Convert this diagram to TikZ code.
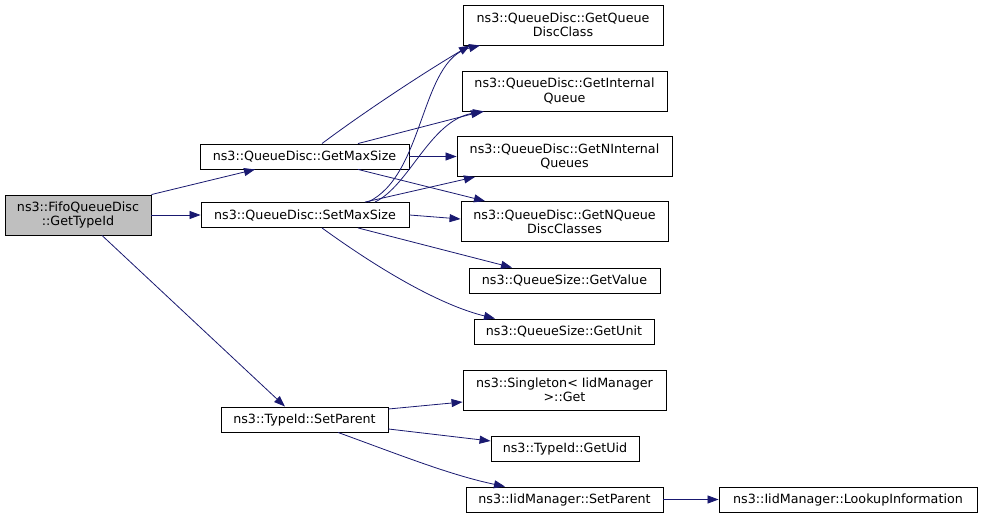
\documentclass[tikz,border=0pt]{standalone}
\usepackage{fontspec}
\newfontfamily\dfont{DejaVu Sans}
\usetikzlibrary{arrows.meta}
\definecolor{edgecol}{HTML}{191970}
\definecolor{rootfill}{HTML}{BFBFBF}
\begin{document}
\begin{tikzpicture}[x=1pt,y=-1pt,
  box/.style={draw=black, line width=0.9pt, fill=white, inner sep=0pt, align=center,
    font=\dfont\fontsize{12.7}{14.2}\selectfont},
  edge/.style={draw=edgecol, line width=0.8pt, -{Triangle[length=11pt,width=8pt]}}]
\useasboundingbox (0,0) rectangle (983,518);
% nodes
\node[box, fill=rootfill, minimum width=146pt, minimum height=40pt] (root) at (78,215) {ns3::FifoQueueDisc\\::GetTypeId};
\node[box, minimum width=209pt, minimum height=25pt] (gms) at (304.5,156.5) {ns3::QueueDisc::GetMaxSize};
\node[box, minimum width=208pt, minimum height=25pt] (sms) at (305,215) {ns3::QueueDisc::SetMaxSize};
\node[box, minimum width=200pt, minimum height=40pt] (gqdc) at (563,25) {ns3::QueueDisc::GetQueue\\DiscClass};
\node[box, minimum width=205pt, minimum height=40pt] (giq) at (564.5,91) {ns3::QueueDisc::GetInternal\\Queue};
\node[box, minimum width=215pt, minimum height=40pt] (gniq) at (564.5,156.5) {ns3::QueueDisc::GetNInternal\\Queues};
\node[box, minimum width=207pt, minimum height=40pt] (gnqdc) at (564.5,221.5) {ns3::QueueDisc::GetNQueue\\DiscClasses};
\node[box, minimum width=191pt, minimum height=25pt] (gv) at (564.5,280.5) {ns3::QueueSize::GetValue};
\node[box, minimum width=180pt, minimum height=25pt] (gu) at (564,331.5) {ns3::QueueSize::GetUnit};
\node[box, minimum width=203pt, minimum height=40pt] (sing) at (564.5,390) {ns3::Singleton< IidManager\\>::Get};
\node[box, minimum width=167pt, minimum height=25pt] (tsp) at (304.5,419.5) {ns3::TypeId::SetParent};
\node[box, minimum width=148pt, minimum height=25pt] (guid) at (565,448.5) {ns3::TypeId::GetUid};
\node[box, minimum width=197pt, minimum height=25pt] (isp) at (564.5,499.5) {ns3::IidManager::SetParent};
\node[box, minimum width=258pt, minimum height=25pt] (lki) at (848,499.5) {ns3::IidManager::LookupInformation};
% edges
\draw[edge] (root.north east) -- (255,0 |- gms.south);
\draw[edge] (root.east) -- (sms.west);
\draw[edge] (102,0 |- root.south) -- (285,0 |- tsp.north);
\draw[edge] (322,0 |- gms.north) .. controls (360,115) and (420,75) .. (470,0 |- gqdc.south);
\draw[edge] (358,0 |- gms.north) -- (482,0 |- giq.south);
\draw[edge] (gms.east) -- (gniq.west);
\draw[edge] (358,0 |- gms.south) -- (485,0 |- gnqdc.north);
\draw[edge] (368,0 |- sms.north) .. controls (425,175) and (420,60) .. (480,0 |- gqdc.south);
\draw[edge] (375,0 |- sms.north) .. controls (410,185) and (430,120) .. (484,0 |- giq.south);
\draw[edge] (365,0 |- sms.north) -- (475,0 |- gniq.south);
\draw[edge] (sms.east) -- (gnqdc.west |- 0,219);
\draw[edge] (358,0 |- sms.south) -- (512,0 |- gv.north);
\draw[edge] (322,0 |- sms.south) .. controls (380,270) and (440,305) .. (495,0 |- gu.north);
\draw[edge] (tsp.east |- 0,409) -- (sing.west |- 0,402);
\draw[edge] (tsp.east |- 0,429) -- (guid.west |- 0,441);
\draw[edge] (338,0 |- tsp.south) .. controls (400,455) and (450,475) .. (505,0 |- isp.north);
\draw[edge] (isp.east) -- (lki.west);
\end{tikzpicture}
\end{document}
